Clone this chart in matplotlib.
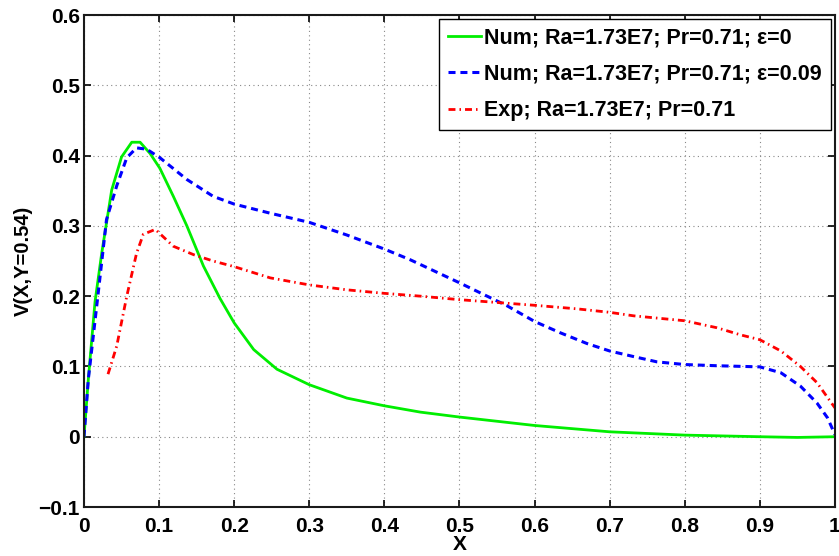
import matplotlib
matplotlib.use("Agg")
import matplotlib.pyplot as plt

plt.rcParams['font.family'] = ['Liberation Sans', 'DejaVu Sans']
plt.rcParams['font.weight'] = 'bold'

x_num0 = [0, 0.0058, 0.0147, 0.0236, 0.0369, 0.050, 0.0636, 0.0747, 0.088, 0.101, 0.119,
          0.137, 0.159, 0.181, 0.2, 0.226, 0.257, 0.3, 0.35, 0.4, 0.448, 0.5, 0.6, 0.7,
          0.8, 0.9, 0.95, 1.0]
v_num0 = [0, 0.082, 0.192, 0.261, 0.351, 0.398, 0.419, 0.419, 0.403, 0.382, 0.342,
          0.300, 0.243, 0.197, 0.162, 0.124, 0.096, 0.074, 0.055, 0.044, 0.035, 0.028, 0.016, 0.007,
          0.0023, 0.0, -0.001, 0.0]

x_num9 = [0, 0.0058, 0.019, 0.030, 0.0436, 0.057, 0.070, 0.0836, 0.101, 0.137, 0.172, 0.2,
          0.248, 0.3, 0.35, 0.4, 0.434, 0.468, 0.5, 0.53, 0.563, 0.6, 0.634, 0.67, 0.7, 0.732,
          0.763, 0.8, 0.843, 0.9, 0.928, 0.954, 0.976, 0.99, 1.0]
v_num9 = [0, 0.082, 0.205, 0.309, 0.357, 0.397, 0.411, 0.409, 0.397, 0.366, 0.342, 0.331,
          0.318, 0.305, 0.287, 0.267, 0.252, 0.235, 0.219, 0.2035, 0.1865, 0.164, 0.148, 0.1325,
          0.122, 0.114, 0.1065, 0.1027, 0.101, 0.0994, 0.091, 0.072, 0.048, 0.027, 0.003]

x_exp = [0.032, 0.0436, 0.057, 0.070, 0.079, 0.095, 0.119, 0.146, 0.172, 0.2, 0.248, 0.3,
         0.35, 0.4, 0.448, 0.5, 0.55, 0.6, 0.656, 0.7, 0.732, 0.8, 0.843, 0.874, 0.9, 0.928,
         0.954, 0.976, 1.0]
v_exp = [0.089, 0.129, 0.200, 0.261, 0.288, 0.295, 0.271, 0.259, 0.250, 0.242, 0.226, 0.216,
         0.209, 0.204, 0.200, 0.195, 0.191, 0.187, 0.182, 0.177, 0.172, 0.165, 0.155, 0.145,
         0.138, 0.122, 0.100, 0.077, 0.041]

labels = ['Num; Ra=1.73E7; Pr=0.71; ε=0',
          'Num; Ra=1.73E7; Pr=0.71; ε=0.09',
          'Exp; Ra=1.73E7; Pr=0.71']
xticks = [0, 0.1, 0.2, 0.3, 0.4, 0.5, 0.6, 0.7, 0.8, 0.9, 1]
xticklabels = ['0', '0.1', '0.2', '0.3', '0.4', '0.5', '0.6', '0.7', '0.8', '0.9', '1']
yticks = [-0.1, 0, 0.1, 0.2, 0.3, 0.4, 0.5, 0.6]
yticklabels = ['\u22120.1', '0', '0.1', '0.2', '0.3', '0.4', '0.5', '0.6']

fig = plt.figure(figsize=(8.39, 5.56), dpi=100)
ax = fig.add_axes([0.1001, 0.0881, 0.8951, 0.8849])

ax.plot(x_num0, v_num0, color='#00ee00', lw=2.0, label=labels[0])
ax.plot(x_num9, v_num9, color='#0000ff', lw=2.2, dashes=(2.3, 1.6), label=labels[1])
ax.plot(x_exp, v_exp, color='#ff0000', lw=2.0, dashes=(2.5, 1.45, 0.55, 1.45), label=labels[2])

ax.set_xlim(0, 1)
ax.set_ylim(-0.1, 0.6)
ax.set_xticks(xticks)
ax.set_xticklabels(xticklabels)
ax.set_yticks(yticks)
ax.set_yticklabels(yticklabels)
ax.tick_params(direction='in', length=5, width=1.2, labelsize=15, top=True, right=True)
ax.tick_params(axis='x', pad=7.5)
ax.tick_params(axis='y', pad=3)
for lab in ax.get_xticklabels() + ax.get_yticklabels():
    lab.set_fontweight('bold')
for s in ax.spines.values():
    s.set_linewidth(1.5)
    s.set_color('#1a1a1a')
ax.grid(True, linestyle=(0, (1, 3)), color='#888888', linewidth=0.8)

ax.set_xlabel('X', fontsize=15, fontweight='bold', labelpad=-1)
ax.set_ylabel('V(X,Y=0.54)', fontsize=14.5, fontweight='bold', labelpad=4)

leg = ax.legend(loc='upper right', fontsize=15.5, handlelength=1.55, handletextpad=0.15,
                borderaxespad=0.2, borderpad=0.4, labelspacing=0.7, fancybox=False,
                framealpha=1, edgecolor='black')
leg.get_frame().set_linewidth(1.0)
for t in leg.get_texts():
    t.set_fontweight('bold')

fig.savefig('out.png', dpi=100)
